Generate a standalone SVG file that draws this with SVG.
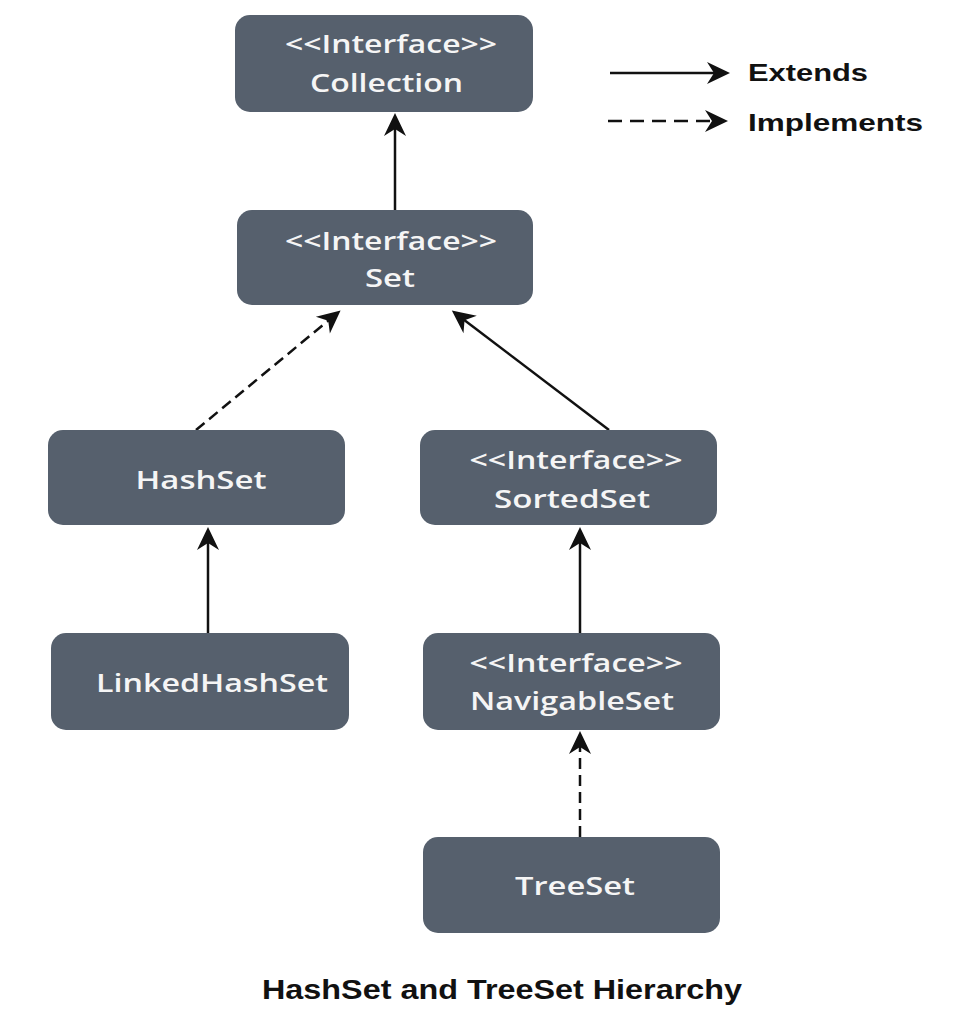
<svg xmlns="http://www.w3.org/2000/svg" width="965" height="1033" viewBox="0 0 965 1033">
<style>
.box{fill:#56606d;}
.t{font-family:"Open Sans","Liberation Sans",sans-serif;font-weight:600;font-size:26px;fill:#f5f5f5;text-anchor:middle;}
.lg{font-family:"Liberation Sans","Open Sans",sans-serif;font-weight:700;font-size:24px;fill:#111;}
.title{font-family:"Liberation Sans","Open Sans",sans-serif;font-weight:700;font-size:28px;fill:#111;text-anchor:middle;}
.ext{fill:none;stroke:#111;stroke-width:2.5;}
.imp{fill:none;stroke:#111;stroke-width:2.5;stroke-dasharray:11 6;}
</style>
<defs>
<marker id="ah" viewBox="-26 -13 30 26" refX="-4" refY="0" markerWidth="30" markerHeight="26" markerUnits="userSpaceOnUse" orient="auto">
<path d="M0,0 L-23,-11 L-16,0 L-23,11 Z" fill="#111"/>
</marker>
</defs>
<rect width="965" height="1033" fill="#fff"/>
<g id="connectors">
<line class="ext" x1="395" y1="210" x2="395" y2="117" marker-end="url(#ah)"/>
<line class="imp" x1="196" y1="430" x2="337.5" y2="313" marker-end="url(#ah)"/>
<line class="ext" x1="609" y1="430" x2="455" y2="313" marker-end="url(#ah)"/>
<line class="ext" x1="208" y1="633" x2="208" y2="531" marker-end="url(#ah)"/>
<line class="ext" x1="580" y1="633" x2="580" y2="531" marker-end="url(#ah)"/>
<line class="imp" x1="580" y1="837" x2="580" y2="735" marker-end="url(#ah)"/>
</g>
<g id="legend">
<line class="ext" x1="610" y1="73" x2="726" y2="73" marker-end="url(#ah)"/>
<line class="imp" x1="608" y1="121" x2="724" y2="121" style="stroke-dasharray:14 8" marker-end="url(#ah)"/>
<text class="lg" x="748" y="81" textLength="120" lengthAdjust="spacingAndGlyphs">Extends</text>
<text class="lg" x="748" y="131" textLength="175" lengthAdjust="spacingAndGlyphs">Implements</text>
</g>
<g id="collection">
<rect class="box" x="235" y="15" width="298" height="97" rx="15"/>
<text class="t" x="391" y="53" textLength="212" lengthAdjust="spacingAndGlyphs">&lt;&lt;Interface&gt;&gt;</text>
<text class="t" x="386.5" y="92" textLength="153" lengthAdjust="spacingAndGlyphs">Collection</text>
</g>
<g id="set">
<rect class="box" x="237" y="210" width="296" height="95" rx="15"/>
<text class="t" x="391" y="250" textLength="212" lengthAdjust="spacingAndGlyphs">&lt;&lt;Interface&gt;&gt;</text>
<text class="t" x="390" y="287" textLength="50" lengthAdjust="spacingAndGlyphs">Set</text>
</g>
<g id="hashset">
<rect class="box" x="48" y="430" width="297" height="95" rx="15"/>
<text class="t" x="201" y="489" textLength="131" lengthAdjust="spacingAndGlyphs">HashSet</text>
</g>
<g id="sortedset">
<rect class="box" x="420" y="430" width="297" height="95" rx="15"/>
<text class="t" x="576" y="469" textLength="213" lengthAdjust="spacingAndGlyphs">&lt;&lt;Interface&gt;&gt;</text>
<text class="t" x="572" y="508" textLength="156" lengthAdjust="spacingAndGlyphs">SortedSet</text>
</g>
<g id="linkedhashset">
<rect class="box" x="51" y="633" width="298" height="97" rx="15"/>
<text class="t" x="212" y="692" textLength="232" lengthAdjust="spacingAndGlyphs">LinkedHashSet</text>
</g>
<g id="navigableset">
<rect class="box" x="423" y="633" width="297" height="97" rx="15"/>
<text class="t" x="576" y="672" textLength="213" lengthAdjust="spacingAndGlyphs">&lt;&lt;Interface&gt;&gt;</text>
<text class="t" x="572" y="710" textLength="204" lengthAdjust="spacingAndGlyphs">NavigableSet</text>
</g>
<g id="treeset">
<rect class="box" x="423" y="837" width="297" height="96" rx="15"/>
<text class="t" x="575" y="895" textLength="120" lengthAdjust="spacingAndGlyphs">TreeSet</text>
</g>
<text class="title" x="502" y="999" textLength="480" lengthAdjust="spacingAndGlyphs">HashSet and TreeSet Hierarchy</text>
</svg>
